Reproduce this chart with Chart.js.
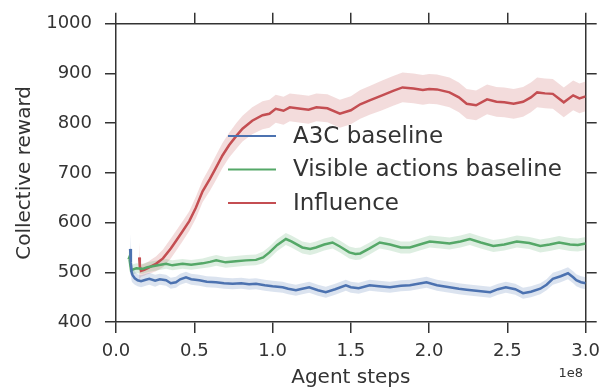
<!DOCTYPE html>
<html>
<head>
<meta charset="utf-8">
<script src="https://cdn.jsdelivr.net/npm/chart.js@4.4.0/dist/chart.umd.min.js"></script>
<style>
  html, body { margin: 0; padding: 0; background: #fff; }
</style>
</head>
<body>
<canvas id="chart" width="608" height="392"></canvas>
<script>
// values (x in units of 1e8 agent steps)
const seriesLabels = ['A3C baseline', 'Visible actions baseline', 'Influence'];
const seriesColors = ['#4C72B0', '#55A868', '#C44E52'];
const bandColors = ['rgba(76,114,176,0.2)', 'rgba(85,168,104,0.2)', 'rgba(196,78,82,0.2)'];
const xTicks = [0, 0.5, 1.0, 1.5, 2.0, 2.5, 3.0];
const yTicks = [400, 500, 600, 700, 800, 900, 1000];

const a3cX = [0.09, 0.095, 0.10, 0.106, 0.12, 0.138, 0.16, 0.19, 0.213, 0.25,
  0.28, 0.32, 0.35, 0.383, 0.41, 0.447, 0.48, 0.532, 0.58, 0.638,
  0.69, 0.745, 0.8, 0.85, 0.894, 0.95, 1.0, 1.064, 1.1, 1.149,
  1.19, 1.234, 1.29, 1.34, 1.4, 1.468, 1.5, 1.55, 1.62, 1.68,
  1.75, 1.82, 1.877, 1.93, 1.983, 2.05, 2.13, 2.19, 2.24, 2.3,
  2.39, 2.44, 2.49, 2.55, 2.6, 2.65, 2.71, 2.75, 2.79, 2.84,
  2.887, 2.92, 2.94, 2.97, 3.0];
const a3cY = [547, 520, 500, 494, 488, 484, 482, 485, 487, 483,
  486, 484, 478, 480, 486, 490, 486, 484, 481, 480,
  478, 477, 478, 476, 477, 474, 472, 470, 467, 464,
  467, 470, 464, 460, 466, 474, 470, 468, 474, 472,
  470, 473, 474, 477, 480, 474, 470, 467, 465, 463,
  460, 466, 470, 466, 458, 461, 467, 475, 487, 492,
  498, 490, 484, 480, 478];
const a3cErr = [30, 25, 18, 15, 13, 12, 12, 12, 12, 12,
  11, 11, 11, 11, 11, 11, 11, 11, 11, 11,
  11, 11, 11, 11, 11, 11, 11, 11, 11, 11,
  11, 11, 11, 11, 11, 11, 11, 11, 11, 11,
  11, 11, 11, 11, 11, 11, 11, 11, 11, 11,
  11, 11, 11, 11, 11, 11, 11, 11, 12, 12,
  12, 12, 12, 12, 12];

const visX = [0.08, 0.085, 0.09, 0.096, 0.11, 0.13, 0.17, 0.2, 0.25, 0.32,
  0.36, 0.425, 0.48, 0.553, 0.6, 0.64, 0.7, 0.766, 0.83, 0.894,
  0.94, 0.98, 1.03, 1.085, 1.12, 1.19, 1.24, 1.277, 1.33, 1.383,
  1.43, 1.49, 1.53, 1.56, 1.62, 1.685, 1.75, 1.82, 1.877, 1.94,
  2.004, 2.07, 2.13, 2.2, 2.26, 2.33, 2.41, 2.48, 2.56, 2.64,
  2.71, 2.77, 2.83, 2.9, 2.95, 3.0];
const visY = [526, 530, 518, 504, 506, 508, 507, 510, 513, 517,
  514, 517, 515, 518, 521, 524, 520, 522, 524, 525,
  530, 540, 555, 567, 562, 550, 547, 550, 556, 560,
  552, 540, 537, 538, 548, 560, 556, 550, 550, 556,
  562, 560, 558, 562, 567, 560, 553, 556, 562, 559,
  553, 556, 560, 556, 555, 558];
const visErr = [15, 14, 12, 10, 10, 10, 10, 10, 10, 10,
  10, 10, 10, 10, 11, 11, 11, 11, 11, 11,
  12, 12, 12, 12, 12, 12, 12, 12, 12, 12,
  12, 12, 12, 12, 12, 12, 12, 12, 12, 12,
  12, 12, 12, 12, 12, 12, 12, 12, 12, 12,
  13, 13, 13, 13, 13, 13];

const infX = [0.148, 0.152, 0.16, 0.18, 0.2, 0.23, 0.255, 0.3, 0.35, 0.383,
  0.42, 0.468, 0.51, 0.553, 0.6, 0.638, 0.68, 0.723, 0.77, 0.808,
  0.87, 0.936, 0.98, 1.02, 1.07, 1.11, 1.18, 1.23, 1.28, 1.35,
  1.43, 1.5, 1.56, 1.62, 1.7, 1.77, 1.83, 1.9, 1.96, 2.0,
  2.05, 2.13, 2.19, 2.24, 2.3, 2.37, 2.43, 2.48, 2.54, 2.6,
  2.65, 2.69, 2.74, 2.79, 2.86, 2.92, 2.96, 3.0];
const infY = [530, 512, 503, 505, 508, 513, 517, 528, 548, 563,
  580, 603, 630, 663, 688, 710, 735, 756, 775, 789,
  805, 816, 819, 829, 825, 832, 829, 827, 832, 830,
  819, 826, 838, 846, 856, 865, 872, 870, 867, 869,
  868, 862, 852, 839, 836, 848, 843, 842, 839, 843,
  852, 862, 860, 859, 842, 856, 850, 854];
const infErr = [30, 25, 12, 12, 12, 14, 15, 18, 20, 20,
  20, 20, 22, 22, 24, 25, 25, 25, 26, 26,
  27, 28, 28, 28, 28, 28, 28, 28, 28, 28,
  28, 28, 29, 29, 30, 30, 30, 30, 30, 30,
  30, 30, 30, 30, 30, 30, 30, 30, 30, 30,
  30, 30, 30, 30, 30, 30, 30, 30];

const allX = [a3cX, visX, infX];
const allY = [a3cY, visY, infY];
const allErr = [a3cErr, visErr, infErr];

const FONT = 'DejaVu Sans';
const TXT = '#333333';
const AXIS = '#333333';

function pts(xs, ys, errs, sign) {
    return xs.map((x, i) => ({x: x, y: ys[i] + sign * errs[i]}));
}

// bands first (upper fills down to lower), then the mean lines
const datasets = [];
for (let s = 0; s < 3; s++) {
    datasets.push({
        data: pts(allX[s], allY[s], allErr[s], 1),
        borderWidth: 0, pointRadius: 0, fill: '+1',
        backgroundColor: bandColors[s], order: 2
    });
    datasets.push({
        data: pts(allX[s], allY[s], allErr[s], -1),
        borderWidth: 0, pointRadius: 0, fill: false, order: 2
    });
}
for (let s = 0; s < 3; s++) {
    datasets.push({
        label: seriesLabels[s],
        data: pts(allX[s], allY[s], allErr[s], 0),
        borderColor: seriesColors[s], borderWidth: 2.5,
        pointRadius: 0, fill: false, tension: 0, order: 1
    });
}

// legend drawn inside the plot, no frame
const innerLegend = {
    id: 'innerLegend',
    afterDraw(chart) {
        const ctx = chart.ctx;
        ctx.save();
        const rows = [136, 169.5, 203];
        for (let s = 0; s < 3; s++) {
            ctx.strokeStyle = seriesColors[s];
            ctx.lineWidth = 2;
            ctx.beginPath();
            ctx.moveTo(228, rows[s]);
            ctx.lineTo(276, rows[s]);
            ctx.stroke();
            ctx.fillStyle = TXT;
            ctx.font = '23px "' + FONT + '"';
            ctx.textBaseline = 'middle';
            ctx.textAlign = 'left';
            ctx.fillText(seriesLabels[s], 293, rows[s] + 1);
        }
        // offset text for the x axis
        ctx.font = '13px "' + FONT + '"';
        ctx.textAlign = 'right';
        ctx.fillText('1e8', 583, 374);
        ctx.restore();
    }
};

function axisGrid() {
    return {drawOnChartArea: false, drawTicks: true, tickLength: 11, color: AXIS, lineWidth: 1.5};
}
const axisBorder = {color: AXIS, width: 1.5};

new Chart(document.getElementById('chart'), {
    type: 'line',
    data: {datasets: datasets},
    plugins: [innerLegend],
    options: {
        responsive: false,
        animation: false,
        layout: {padding: 0},
        plugins: {legend: {display: false}, tooltip: {enabled: false}},
        scales: {
            x: {
                type: 'linear', position: 'bottom', min: 0, max: 3,
                afterBuildTicks: s => { s.ticks = xTicks.map(v => ({value: v})); },
                ticks: {
                    callback: v => v.toFixed(1), color: TXT, padding: 8,
                    font: {family: FONT, size: 18}, maxRotation: 0, autoSkip: false
                },
                grid: axisGrid(), border: axisBorder,
                title: {display: true, text: 'Agent steps', color: TXT,
                        font: {family: FONT, size: 20}, padding: {top: 0, bottom: 2}},
                afterFit: s => { s.height = 70; }
            },
            x2: {
                type: 'linear', position: 'top', min: 0, max: 3,
                afterBuildTicks: s => { s.ticks = xTicks.map(v => ({value: v})); },
                ticks: {display: false},
                grid: axisGrid(), border: axisBorder,
                afterFit: s => { s.height = 21; }
            },
            y: {
                type: 'linear', position: 'left', min: 400, max: 1000,
                afterBuildTicks: s => { s.ticks = yTicks.map(v => ({value: v})); },
                ticks: {callback: v => String(v), color: TXT, padding: 13,
                        font: {family: FONT, size: 18}},
                grid: axisGrid(), border: axisBorder,
                title: {display: true, text: 'Collective reward', color: TXT,
                        font: {family: FONT, size: 20}, padding: {top: 13, bottom: 0}},
                afterFit: s => { s.width = 116; }
            },
            y2: {
                type: 'linear', position: 'right', min: 400, max: 1000,
                afterBuildTicks: s => { s.ticks = yTicks.map(v => ({value: v})); },
                ticks: {display: false},
                grid: axisGrid(), border: axisBorder,
                afterFit: s => { s.width = 22; }
            }
        }
    }
});
</script>
</body>
</html>
